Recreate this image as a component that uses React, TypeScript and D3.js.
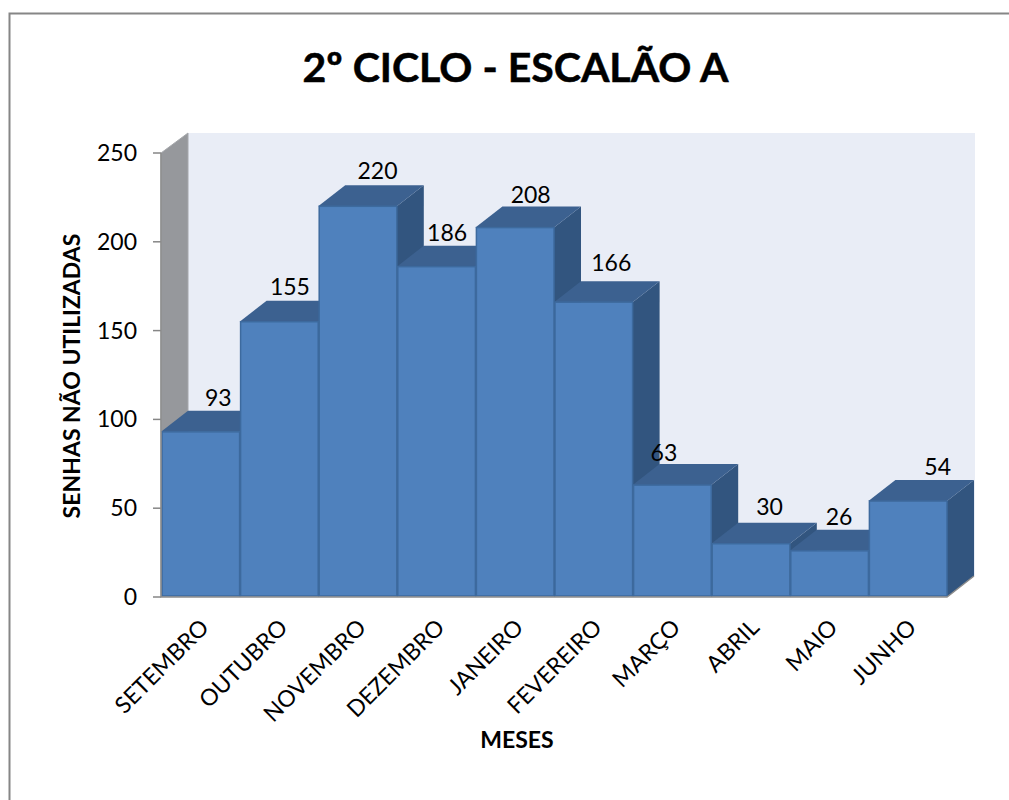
import React from "react";
import * as d3 from "d3";

const categories = ["SETEMBRO", "OUTUBRO", "NOVEMBRO", "DEZEMBRO", "JANEIRO", "FEVEREIRO", "MARÇO", "ABRIL", "MAIO", "JUNHO"];
const values = [93, 155, 220, 186, 208, 166, 63, 30, 26, 54];
const yTicks = [0, 50, 100, 150, 200, 250];
const titleText = "2º CICLO - ESCALÃO A";
const xTitle = "MESES";
const yTitle = "SENHAS NÃO UTILIZADAS";
// manual label nudges, as placed in the source chart
const labelDx = [18, 11, 20, 11, 16, 18, -8, 19, 10, 30];
const labelDy = [14, 15, 15, 14, 13, 19, 12, 17, 14, 14];

const FONT = "Lato, Carlito, 'Open Sans', sans-serif";
const DX = 27;
const DY = 21;

export default function App() {
  const x = d3.scaleBand<string>().domain(categories).range([161, 947]).padding(0);
  const y = d3.scaleLinear().domain([0, 250]).range([597, 153]);
  const poly = (pts: [number, number][]) => d3.line()(pts) + "Z";
  const y0 = y(0);
  const yT = y(250);
  return (
    <svg width={1009} height={800} style={{ position: "absolute", left: 0, top: 0, background: "#fff" }} fontFamily={FONT}>
      <path d="M9.5 800V13.5H1009" fill="none" stroke="#868686" strokeWidth={2} />
      <text x={515.5} y={82} textAnchor="middle" fontSize={41} fontWeight={700} fill="#000" stroke="#000" strokeWidth={0.5}>{titleText}</text>

      {/* walls */}
      <path d={poly([[161 + DX, yT - DY + 1], [947 + DX + 1, yT - DY + 1], [947 + DX + 1, y0 - DY], [161 + DX, y0 - DY]])} fill="#e9edf6" />
      <path d={poly([[161, yT], [161 + DX, yT - DY + 1], [161 + DX, y0 - DY], [161, y0]])} fill="#96989c" stroke="#a6a8ac" strokeWidth={1} />

      {/* y axis */}
      {yTicks.map((t) => (
        <g key={t}>
          <line x1={153} x2={161} y1={y(t)} y2={y(t)} stroke="#868686" strokeWidth={1.5} />
          <text x={137} y={y(t) + 8} textAnchor="end" fontSize={23} fill="#000">{t}</text>
        </g>
      ))}

      {/* bars */}
      {categories.map((c, i) => {
        const bx = x(c)!;
        const bw = x.bandwidth();
        const top = y(values[i]);
        return (
          <g key={c}>
            <path d={poly([[bx + bw, top], [bx + bw + DX, top - DY], [bx + bw + DX, y0 - DY], [bx + bw, y0]])} fill="#32557f" />
            <path d={poly([[bx, top], [bx + DX, top - DY], [bx + bw + DX, top - DY], [bx + bw, top]])} fill="#3c6190" />
            <rect x={bx + 1} y={top} width={bw - 1} height={y0 - top - 1} fill="#4f81bd" stroke="#3d6a9e" strokeWidth={1.5} />
          </g>
        );
      })}
      <path d={`M161 ${yT}V${y0}H947L${947 + DX} ${y0 - DY}`} fill="none" stroke="#8c8c8c" strokeWidth={1.5} />

      {/* data labels */}
      {categories.map((c, i) => (
        <text
          key={c}
          x={x(c)! + x.bandwidth() / 2 + labelDx[i]}
          y={y(values[i]) - DY - labelDy[i] + 9}
          textAnchor="middle"
          fontSize={23}
          fill="#000"
        >
          {values[i]}
        </text>
      ))}

      {/* category labels */}
      {categories.map((c) => {
        const cx = x(c)! + x.bandwidth() / 2;
        return (
          <text key={c} transform={`translate(${cx + 10},${y0 + 32}) rotate(-45)`} textAnchor="end" fontSize={23} fill="#000">
            {c}
          </text>
        );
      })}

      <text x={517} y={748} textAnchor="middle" fontSize={23} fontWeight={700} fill="#000">{xTitle}</text>
      <text transform={`translate(80,376) rotate(-90)`} textAnchor="middle" fontSize={23} fontWeight={700} fill="#000">{yTitle}</text>
    </svg>
  );
}
